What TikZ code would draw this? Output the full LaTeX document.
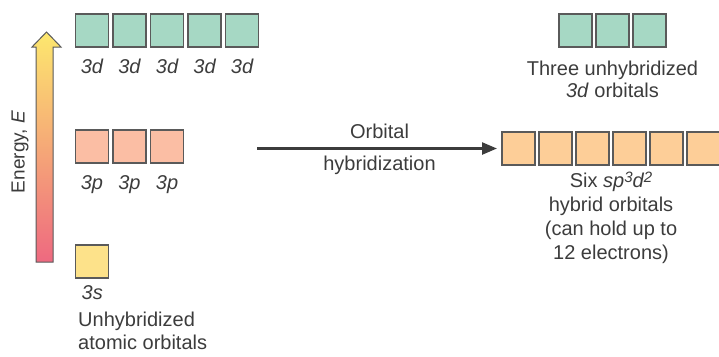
\documentclass[tikz,border=0pt]{standalone}
\usepackage{fontspec}
\setmainfont{Liberation Sans}
\usetikzlibrary{positioning,calc,arrows.meta}
\definecolor{dteal}{RGB}{166,216,196}
\definecolor{psalmon}{RGB}{251,190,164}
\definecolor{syellow}{RGB}{253,226,138}
\definecolor{horange}{RGB}{253,206,152}
\definecolor{boxline}{RGB}{90,90,90}
\definecolor{txtgray}{RGB}{60,60,60}
\definecolor{eyellow}{RGB}{253,232,110}
\definecolor{eorange}{RGB}{250,172,120}
\definecolor{ered}{RGB}{238,105,128}
\newcommand{\hsup}[1]{\raisebox{5pt}{\fontsize{15}{15}\selectfont #1}}

\begin{document}
\begin{tikzpicture}[x=1pt,y=-1pt,
				orb/.style={minimum size=33pt,outer sep=0pt,inner sep=0pt,draw=boxline,line width=1.5pt,rectangle,node distance=4.5pt},
				lbl/.style={font=\fontsize{20}{24}\selectfont\itshape,text=txtgray,inner sep=0pt},
				txt/.style={font=\fontsize{20}{24}\selectfont,text=txtgray,inner sep=0pt,align=center}]
				\useasboundingbox (0,0) rectangle (719,356);

				% energy axis
				\shadedraw[draw=boxline,line width=1pt,top color=eyellow,middle color=eorange,bottom color=ered]
					(36,262) -- (36,47) -- (32,47) -- (46.5,32) -- (61,47) -- (53,47) -- (53,262) -- cycle;
				\node[txt,rotate=90,font=\fontsize{19}{24}\selectfont] (elbl) at (20,152) {Energy, \textit{E}};

				% unhybridized atomic orbitals
				\node[orb,fill=dteal] (d1) at (92,30.5) {};
				\node[orb,fill=dteal] (d2) [right=of d1] {};
				\node[orb,fill=dteal] (d3) [right=of d2] {};
				\node[orb,fill=dteal] (d4) [right=of d3] {};
				\node[orb,fill=dteal] (d5) [right=of d4] {};
				\node[orb,fill=psalmon] (p1) at (92,146.5) {};
				\node[orb,fill=psalmon] (p2) [right=of p1] {};
				\node[orb,fill=psalmon] (p3) [right=of p2] {};
				\node[orb,fill=syellow] (s1) at (92,261.5) {};

				\node[lbl] (ld1) [below=12pt of d1] {3d};
				\node[lbl] (ld2) [below=12pt of d2] {3d};
				\node[lbl] (ld3) [below=12pt of d3] {3d};
				\node[lbl] (ld4) [below=12pt of d4] {3d};
				\node[lbl] (ld5) [below=12pt of d5] {3d};
				\node[lbl] (lp1) [below=12pt of p1] {3p};
				\node[lbl] (lp2) [below=12pt of p2] {3p};
				\node[lbl] (lp3) [below=12pt of p3] {3p};
				\node[lbl] (ls1) [below=7.5pt of s1.south west,anchor=north west,xshift=6pt] {3s};
				\node[txt,align=left,font=\fontsize{20}{23}\selectfont] (lunh) [below=12pt of ls1.south west,anchor=north west,xshift=-3.5pt] {Unhybridized\\atomic orbitals};

				% hybridization
				\coordinate (hstart) at (257,148.5);
				\node[orb,fill=dteal,node distance=4pt] (t1) at (575.5,30.5) {};
				\node[orb,fill=dteal,node distance=4pt] (t2) [right=of t1] {};
				\node[orb,fill=dteal,node distance=4pt] (t3) [right=of t2] {};
				\node[orb,fill=horange,node distance=4pt] (h1) at (518.5,148.5) {};
				\node[orb,fill=horange,node distance=4pt] (h2) [right=of h1] {};
				\node[orb,fill=horange,node distance=4pt] (h3) [right=of h2] {};
				\node[orb,fill=horange,node distance=4pt] (h4) [right=of h3] {};
				\node[orb,fill=horange,node distance=4pt] (h5) [right=of h4] {};
				\node[orb,fill=horange,node distance=4pt] (h6) [right=of h5] {};

				\draw[-{Triangle[length=15pt,width=12pt]},line width=2.4pt,draw=txtgray,shorten >=5pt] (hstart) -- (h1);
				\coordinate (amid) at ($(hstart)!.5!(h1.west)$);
				\node[txt] (aup) [above=10pt of amid] {Orbital};
				\node[txt] (adn) [below=7pt of amid] {hybridization};

				\node[txt,font=\fontsize{20}{22}\selectfont] (tlbl) [below=14pt of t2] {Three unhybridized\\\textit{3d} orbitals};
				\coordinate (hmid) at ($(h3.south)!.5!(h4.south)$);
				\node[txt] (hlbl) [below=7pt of hmid] {Six \textit{sp\hsup{3}d\hsup{2}}\\hybrid orbitals\\(can hold up to\\12 electrons)};
			\end{tikzpicture}
\end{document}
